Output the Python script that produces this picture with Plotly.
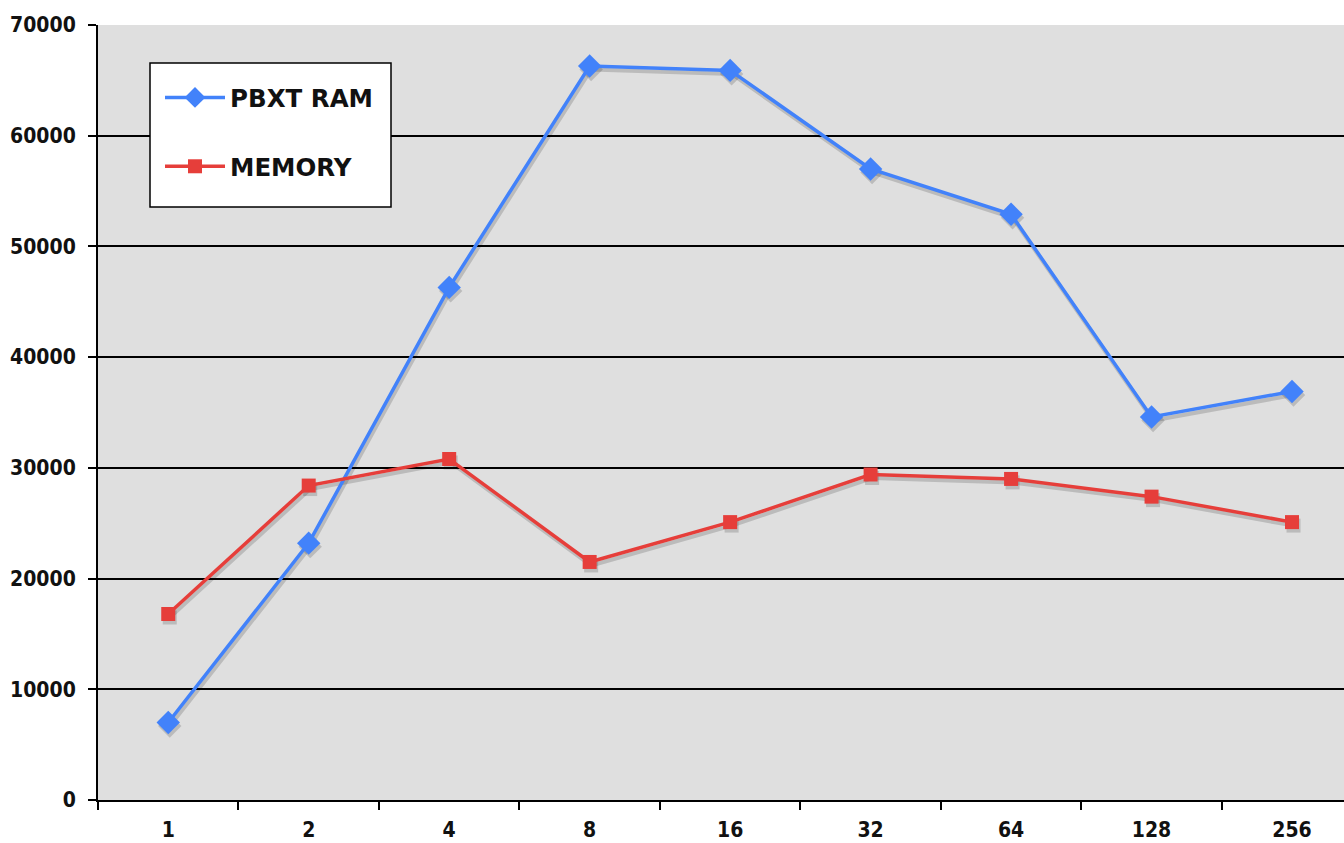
import plotly.graph_objects as go

# Thread counts on the category axis
threads = ["1", "2", "4", "8", "16", "32", "64", "128", "256"]

# Throughput per engine
pbxt_ram = [7000, 23200, 46300, 66300, 65900, 57000, 52900, 34600, 36900]
memory = [16800, 28400, 30800, 21500, 25100, 29400, 29000, 27400, 25100]

y_ticks = [0, 10000, 20000, 30000, 40000, 50000, 60000, 70000]
y_tick_text = ["0", "10000", "20000", "30000", "40000", "50000", "60000", "70000"]

BLUE = "#4282fa"
RED = "#e63e3a"
SHADOW = "rgba(0,0,0,0.16)"
TICK_FONT = "DejaVu Sans Condensed"
LEGEND_FONT = "DejaVu Sans"

W, H = 1344, 843
L, R, T, B = 98, 0, 25, 43
plot_w = W - L - R
plot_h = H - T - B

x_lo, x_hi = -0.5, 8.37
y_lo, y_hi = 0, 70000

# soft drop shadow under the lines, drawn on offset overlay axes
dx = 1.5 * (x_hi - x_lo) / plot_w
dy = 3.5 * (y_hi - y_lo) / plot_h


def px_x(p):
    return (p - L) / plot_w


def px_y(p):
    return (H - B - p) / plot_h


series = [("PBXT RAM", pbxt_ram, BLUE, "diamond", 18),
          ("MEMORY", memory, RED, "square", 14)]

fig = go.Figure()

# base subplot carrying the axes, ticks and grid
fig.add_trace(go.Scatter(x=[], y=[], showlegend=False, hoverinfo="skip"))

for name, vals, color, sym, size in series:
    fig.add_trace(go.Scatter(
        x=threads, y=vals, mode="lines+markers", showlegend=False,
        xaxis="x2", yaxis="y2", hoverinfo="skip",
        line=dict(color=SHADOW, width=4),
        marker=dict(symbol=sym, size=size, color=SHADOW),
    ))

for i, (name, vals, color, sym, size) in enumerate(series):
    fig.add_trace(go.Scatter(
        x=threads, y=vals, name=name, mode="lines+markers",
        xaxis="x3", yaxis="y3", legendgroup=f"g{i}",
        line=dict(color=color, width=3.5),
        marker=dict(symbol=sym, size=size, color=color),
    ))

tick_font = dict(family=TICK_FONT, size=21, color="#111111", weight="bold")

cat_axis = dict(type="category", categoryorder="array", categoryarray=threads)

# framed white box behind the legend entries
fig.add_shape(
    type="rect", xref="paper", yref="paper",
    x0=px_x(150), x1=px_x(391), y0=px_y(207), y1=px_y(63),
    fillcolor="white", line=dict(color="black", width=1.5), layer="above",
)

fig.update_layout(
    width=W, height=H,
    margin=dict(l=L, r=R, t=T, b=B, pad=0),
    paper_bgcolor="white",
    plot_bgcolor="#dfdfdf",
    font=dict(family=TICK_FONT),
    xaxis=dict(
        **cat_axis,
        range=[x_lo, x_hi],
        showgrid=False, zeroline=False,
        showline=True, linecolor="black", linewidth=2,
        ticks="outside", tickson="boundaries", ticklen=8, tickwidth=2,
        tickcolor="black", tickfont=tick_font, ticklabelstandoff=10,
    ),
    yaxis=dict(
        range=[y_lo, y_hi], tickvals=y_ticks, ticktext=y_tick_text,
        showgrid=True, gridcolor="black", gridwidth=1.5,
        zeroline=False,
        showline=True, linecolor="black", linewidth=2,
        ticks="outside", ticklen=8, tickwidth=2, tickcolor="black",
        tickfont=tick_font, ticklabelstandoff=8,
    ),
    xaxis2=dict(**cat_axis, overlaying="x", range=[x_lo - dx, x_hi - dx],
                visible=False),
    yaxis2=dict(overlaying="y", range=[y_lo + dy, y_hi + dy], visible=False),
    xaxis3=dict(**cat_axis, overlaying="x", range=[x_lo, x_hi], visible=False),
    yaxis3=dict(overlaying="y", range=[y_lo, y_hi], visible=False),
    legend=dict(
        x=px_x(160), y=px_y(75),
        xanchor="left", yanchor="top",
        bgcolor="rgba(0,0,0,0)", borderwidth=0,
        font=dict(family=LEGEND_FONT, size=24.5, color="#111111", weight="bold"),
        traceorder="grouped", tracegroupgap=34,
        itemwidth=60,
    ),
)

fig.write_html("out.html")
